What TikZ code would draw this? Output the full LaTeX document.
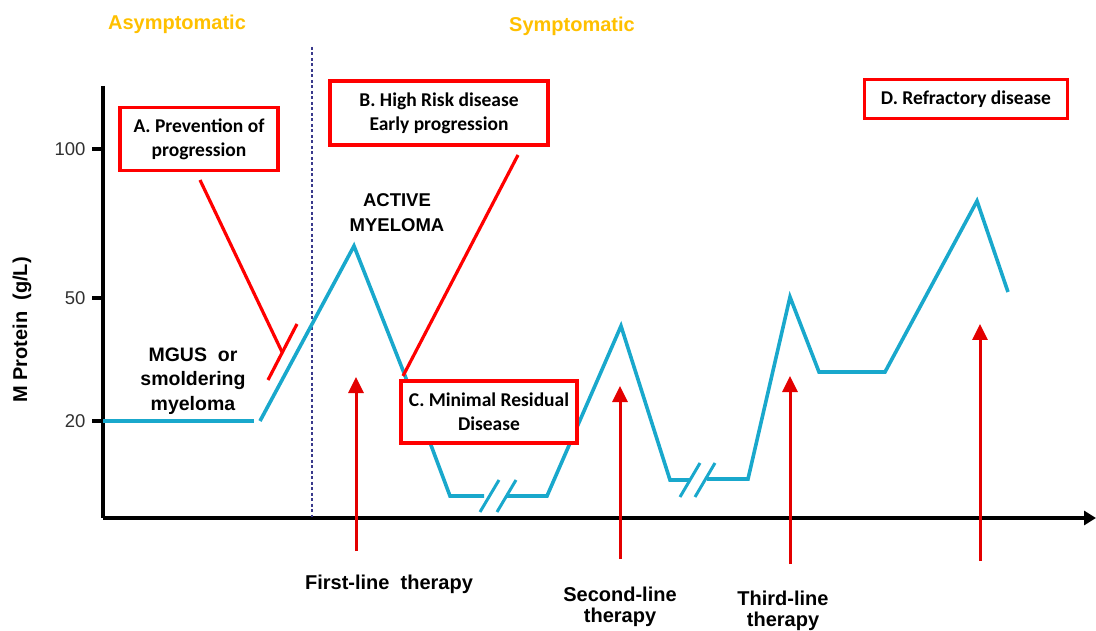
\documentclass[tikz,border=0pt]{standalone}
\usepackage{fontspec}
\setmainfont{Liberation Sans}
\newfontfamily\calfont{Carlito}
\usetikzlibrary{arrows.meta}
\definecolor{curveblue}{HTML}{19A8CC}
\definecolor{boxred}{HTML}{FF0000}
\definecolor{arrred}{HTML}{E30000}
\definecolor{phaseorange}{HTML}{FFC000}
\definecolor{dashnavy}{HTML}{3A3A8C}
\definecolor{ticktext}{HTML}{303030}
\begin{document}
\begin{tikzpicture}[x=1pt,y=-1pt,
  redbox/.style={draw=boxred, line width=3.3pt, fill=white, align=center, inner sep=0pt,
    font=\calfont\bfseries\fontsize{19.5}{24}\selectfont},
  redline/.style={draw=boxred, line width=3.2pt},
  bluecurve/.style={draw=curveblue, line width=3.6pt, line join=miter},
  therarrow/.style={draw=arrred, line width=3pt, -{Triangle[length=16pt,width=15pt]}},
  label/.style={font=\bfseries\fontsize{20}{21.5}\selectfont, align=center},
  phase/.style={font=\bfseries\fontsize{20}{22}\selectfont, text=phaseorange},
  ticklab/.style={font=\fontsize{18.5}{20}\selectfont, text=ticktext, anchor=east}
]
\useasboundingbox (0,0) rectangle (1096,631);

% axes
\coordinate (ytop) at (103,86);
\coordinate (origin) at (103,518);
\coordinate (xend) at (1096,518);
\draw[line width=3.5pt] (ytop) -- (origin);
\draw[line width=3.5pt, -{Triangle[length=12pt,width=14pt]}] (origin) -- (xend);
\foreach \yy/\lab in {149/100, 298/50, 421/20}{
  \draw[line width=3.5pt] (92,\yy) -- (103,\yy);
  \node[ticklab] at (89,\yy) {\lab};
}
\node[rotate=90, font=\bfseries\fontsize{20}{22}\selectfont] (ylab) at (22,330) {M Protein\ \ (g/L)};

% phase separator
\coordinate (sepTop) at (312,47);
\coordinate (sepBot) at (312,517);
\draw[dashnavy, line width=1.1pt, dash pattern=on 3pt off 2.5pt] (sepTop) -- (sepBot);
\node[phase] (asym) at (177,24) {Asymptomatic};
\node[phase] (sym) at (572,26) {Symptomatic};

% blue curve
\draw[bluecurve] (103,421) -- (254,421);
\draw[bluecurve] (260,421) -- (354,246) -- (404,373) -- (450,496) -- (484,496);
\draw[bluecurve] (506,496) -- (547,496) -- (621,326) -- (670,480) -- (690,480);
\draw[bluecurve] (707,479) -- (748,479) -- (790,297) -- (819,372) -- (885,372) -- (977,201) -- (1008,292);
% break marks
\draw[bluecurve, line width=3pt] (480,512) -- (499,480);
\draw[bluecurve, line width=3pt] (497,512) -- (516,480);
\draw[bluecurve, line width=3pt] (680,497) -- (700,463);
\draw[bluecurve, line width=3pt] (695,497) -- (715,463);

% boxes
\node[redbox, minimum width=158pt, minimum height=63pt] (boxA) at (199,139) {A. Prevention of\\progression};
\node[redbox, minimum width=218pt, minimum height=64pt] (boxB) at (439,113) {B. High Risk disease\\Early progression};
\node[redbox, minimum width=176pt, minimum height=62pt] (boxC) at (489,412) {C. Minimal Residual\\Disease};
\node[redbox, minimum width=203pt, minimum height=39pt] (boxD) at (966,99) {D. Refractory disease};

% inhibition line A
\coordinate (a1) at (200,180);
\coordinate (a2) at (282,352);
\coordinate (barL) at (268,380);
\coordinate (barR) at (297,324);
\draw[redline] (a1) -- (a2);
\draw[redline] (barL) -- (barR);
% line B
\coordinate (b1) at (518,155);
\coordinate (b2) at (403,376);
\draw[redline] (b1) -- (b2);

% therapy arrows
\coordinate (t1b) at (356,551); \coordinate (t1t) at (356,377);
\coordinate (t2b) at (620,559); \coordinate (t2t) at (620,386);
\coordinate (t3b) at (790,564); \coordinate (t3t) at (790,376);
\coordinate (t4b) at (980,561); \coordinate (t4t) at (980,324);
\draw[therarrow] (t1b) -- (t1t);
\draw[therarrow] (t2b) -- (t2t);
\draw[therarrow] (t3b) -- (t3t);
\draw[therarrow] (t4b) -- (t4t);

% text labels
\node[label] (first) at (389,584) {First-line\ \ therapy};
\node[label] (second) at (620,607) {Second-line\\therapy};
\node[label] (third) at (783,611) {Third-line\\therapy};
\node[label, font=\bfseries\fontsize{18.5}{25}\selectfont] (active) at (397,213) {ACTIVE\\MYELOMA};
\node[label, font=\bfseries\fontsize{19.5}{24.5}\selectfont] (mgus) at (193,381) {MGUS\ \ or\\smoldering\\myeloma};
\end{tikzpicture}
\end{document}
